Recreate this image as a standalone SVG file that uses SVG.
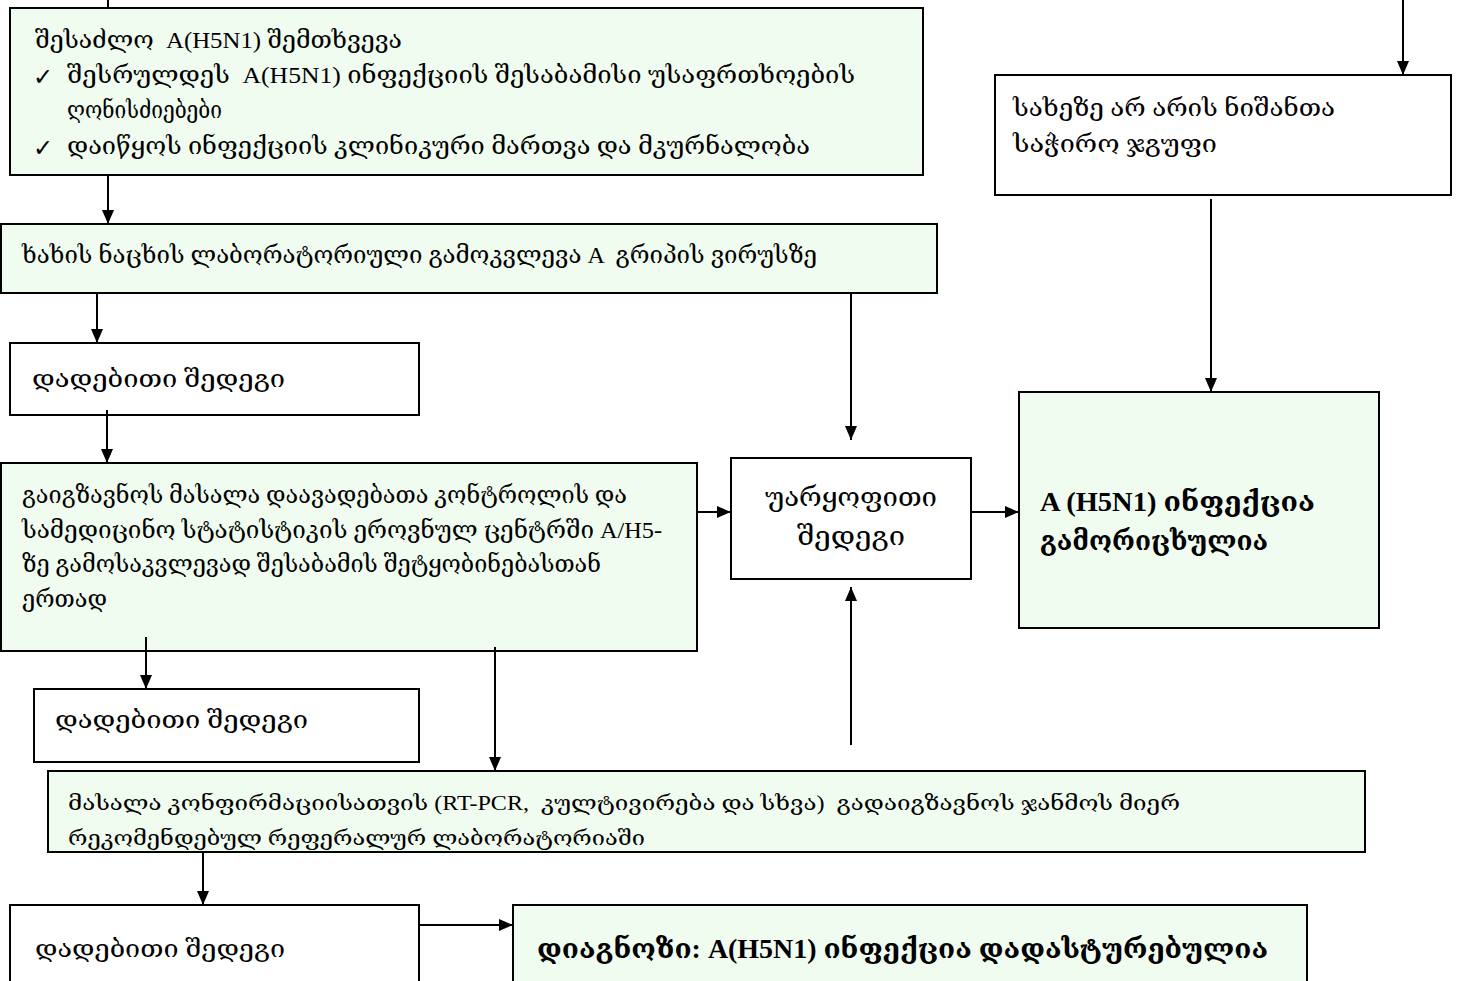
<svg xmlns="http://www.w3.org/2000/svg" width="1457" height="981" viewBox="0 0 1457 981">
<style>
.w { fill:#ffffff; stroke:#000; stroke-width:2 }
.g { fill:#f0fcf0; stroke:#000; stroke-width:2 }
text { font-family:'Liberation Serif','DejaVu Serif','DejaVu Sans',serif; font-size:24px; fill:#000; white-space:pre }
.b { font-weight:bold; font-size:27px }
.m { font-size:27px }
.s { font-size:21px }
.ck { font-family:'DejaVu Sans',sans-serif; font-size:24px }
#connectors line { stroke:#000; stroke-width:2 }
#connectors .a { marker-end:url(#ah) }
</style>
<defs>
<marker id="ah" viewBox="0 0 12 14" markerWidth="12" markerHeight="14" markerUnits="userSpaceOnUse" refX="14" refY="6" orient="auto">
<path d="M0,0 L14,6 L0,12 z" fill="#000"/>
</marker>
</defs>
<rect width="1457" height="981" fill="#fff"/>

<g id="node-possible-case">
<rect class="g" x="10" y="8" width="913" height="167"/>
<text x="35" y="48" textLength="367" lengthAdjust="spacingAndGlyphs">შესაძლო  A(H5N1) შემთხვევა</text>
<text class="ck" x="33" y="85">✓</text>
<text x="67" y="83" textLength="788" lengthAdjust="spacingAndGlyphs">შესრულდეს  A(H5N1) ინფექციის შესაბამისი უსაფრთხოების</text>
<text x="67" y="118" textLength="155" lengthAdjust="spacingAndGlyphs">ღონისძიებები</text>
<text class="ck" x="33" y="156">✓</text>
<text x="67" y="154" textLength="743" lengthAdjust="spacingAndGlyphs">დაიწყოს ინფექციის კლინიკური მართვა და მკურნალობა</text>
</g>

<g id="node-throat-swab">
<rect class="g" x="1" y="224" width="936" height="69"/>
<text x="22" y="263" textLength="795" lengthAdjust="spacingAndGlyphs">ხახის ნაცხის ლაბორატორიული გამოკვლევა A  გრიპის ვირუსზე</text>
</g>

<g id="node-positive-1">
<rect class="w" x="10" y="343" width="409" height="72"/>
<text x="32" y="387" textLength="253" lengthAdjust="spacingAndGlyphs">დადებითი შედეგი</text>
</g>

<g id="node-send-material">
<rect class="g" x="1" y="463" width="696" height="188"/>
<text x="22" y="503" textLength="605" lengthAdjust="spacingAndGlyphs">გაიგზავნოს მასალა დაავადებათა კონტროლის და</text>
<text x="22" y="538" textLength="640" lengthAdjust="spacingAndGlyphs">სამედიცინო სტატისტიკის ეროვნულ ცენტრში A/H5-</text>
<text x="22" y="572" textLength="579" lengthAdjust="spacingAndGlyphs">ზე გამოსაკვლევად შესაბამის შეტყობინებასთან</text>
<text x="22" y="607" textLength="85" lengthAdjust="spacingAndGlyphs">ერთად</text>
</g>

<g id="node-negative">
<rect class="w" x="731" y="458" width="240" height="121"/>
<text class="m" x="851" y="506" text-anchor="middle" textLength="172" lengthAdjust="spacingAndGlyphs">უარყოფითი</text>
<text class="m" x="851" y="545" text-anchor="middle" textLength="108" lengthAdjust="spacingAndGlyphs">შედეგი</text>
</g>

<g id="node-no-signs">
<rect class="w" x="995" y="75" width="456" height="120"/>
<text x="1013" y="116" textLength="322" lengthAdjust="spacingAndGlyphs">სახეზე არ არის ნიშანთა</text>
<text x="1013" y="152" textLength="204" lengthAdjust="spacingAndGlyphs">საჭირო ჯგუფი</text>
</g>

<g id="node-excluded">
<rect class="g" x="1019" y="392" width="360" height="236"/>
<text class="b" x="1040" y="511" textLength="275" lengthAdjust="spacingAndGlyphs">A (H5N1) ინფექცია</text>
<text class="b" x="1040" y="550" textLength="228" lengthAdjust="spacingAndGlyphs">გამორიცხულია</text>
</g>

<g id="node-positive-2">
<rect class="w" x="34" y="689" width="385" height="73"/>
<text x="55" y="728" textLength="253" lengthAdjust="spacingAndGlyphs">დადებითი შედეგი</text>
</g>

<g id="node-confirmation">
<rect class="g" x="48" y="771" width="1317" height="81"/>
<text class="s" x="68" y="810" textLength="1112" lengthAdjust="spacingAndGlyphs">მასალა კონფირმაციისათვის (RT-PCR,  კულტივირება და სხვა)  გადაიგზავნოს ჯანმოს მიერ</text>
<text class="s" x="68" y="845" textLength="577" lengthAdjust="spacingAndGlyphs">რეკომენდებულ რეფერალურ ლაბორატორიაში</text>
</g>

<g id="node-positive-3">
<rect class="w" x="10" y="905" width="409" height="90"/>
<text x="35" y="957" textLength="250" lengthAdjust="spacingAndGlyphs">დადებითი შედეგი</text>
</g>

<g id="node-diagnosis">
<rect class="g" x="513" y="905" width="794" height="90"/>
<text class="b" x="537" y="958" textLength="731" lengthAdjust="spacingAndGlyphs">დიაგნოზი: A(H5N1) ინფექცია დადასტურებულია</text>
</g>

<g id="connectors">
<line x1="108" y1="0" x2="108" y2="8"/>
<line class="a" x1="1403" y1="0" x2="1403" y2="75"/>
<line class="a" x1="108" y1="175" x2="108" y2="224"/>
<line class="a" x1="97" y1="293" x2="97" y2="343"/>
<line class="a" x1="851" y1="293" x2="851" y2="440"/>
<line class="a" x1="107" y1="410" x2="107" y2="463"/>
<line class="a" x1="697" y1="512" x2="731" y2="512"/>
<line class="a" x1="971" y1="512" x2="1019" y2="512"/>
<line class="a" x1="1211" y1="199" x2="1211" y2="392"/>
<line class="a" x1="146" y1="637" x2="146" y2="689"/>
<line class="a" x1="495" y1="647" x2="495" y2="771"/>
<line class="a" x1="851" y1="745" x2="851" y2="587"/>
<line class="a" x1="203" y1="852" x2="203" y2="905"/>
<line class="a" x1="419" y1="925" x2="513" y2="925"/>
</g>
</svg>
